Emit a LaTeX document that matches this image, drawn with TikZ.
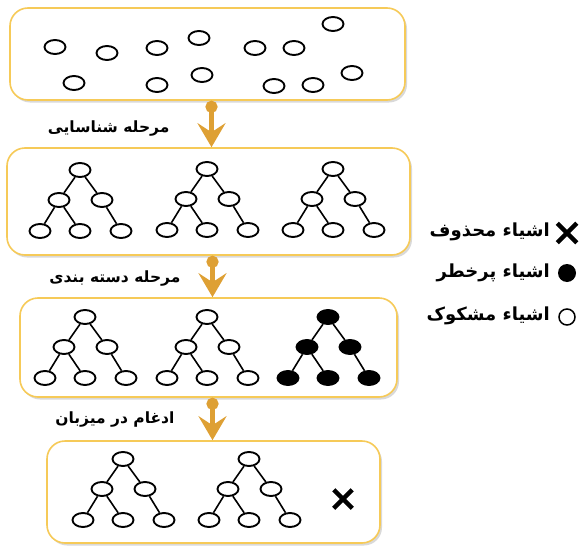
\documentclass[tikz,border=0pt]{standalone}
\usepackage{fontspec}
\newfontfamily\fafont[Script=Arabic]{DejaVu Sans}
\TeXXeTstate=1
\usetikzlibrary{shapes.geometric, shapes.misc, arrows.meta, shadows}

\definecolor{boxgold}{RGB}{246,202,88}
\definecolor{flowgold}{RGB}{222,160,52}

% one tree of six objects: name, x, y, style
\newcommand{\objtree}[4]{%
  \node[#4] (#1r) at (#2,#3) {};
  \node[#4] (#1a) at (#2-21,#3+30) {};
  \node[#4] (#1b) at (#2+22,#3+30) {};
  \node[#4] (#1c) at (#2-40,#3+61) {};
  \node[#4] (#1d) at (#2,#3+61) {};
  \node[#4] (#1e) at (#2+41,#3+61) {};
  \draw[edge] (#1r) -- (#1a) (#1r) -- (#1b)
    (#1a) -- (#1c) (#1a) -- (#1d) (#1b) -- (#1e);
}

\begin{document}
\begin{tikzpicture}[x=1pt, y=-1pt,
    stage/.style={draw=boxgold, line width=1.6pt, rounded corners=18pt, fill=white,
      drop shadow={shadow xshift=2pt, shadow yshift=-2.5pt, opacity=0.3, fill=gray}},
    obj/.style={ellipse, draw, line width=1.9pt, fill=white, inner sep=0pt,
      minimum width=21pt, minimum height=14pt},
    risky/.style={obj, fill=black},
    edge/.style={line width=1.6pt},
    flow/.style={draw=flowgold, line width=4.5pt,
      {Circle[length=12pt]}-{Stealth[length=24pt, width=28pt, inset=9pt]}},
    label/.style={font=\fafont\bfseries\fontsize{15.5}{18}\selectfont, anchor=east},
    key/.style={font=\fafont\bfseries\fontsize{18}{21}\selectfont, anchor=east, inner sep=0pt},
    delmark/.style={cross out, draw, line width=4.5pt, minimum size=14pt, inner sep=0pt}]
  \useasboundingbox (0,0) rectangle (579,549);

  % stages
  \node[stage, minimum width=395pt, minimum height=92pt] (s1) at (207.5,54) {};
  \node[stage, minimum width=403pt, minimum height=107pt] (s2) at (208.5,201.5) {};
  \node[stage, minimum width=377pt, minimum height=99pt] (s3) at (208.5,347.5) {};
  \node[stage, minimum width=333pt, minimum height=102pt] (s4) at (213.5,492) {};

  % suspicious objects
  \foreach \x/\y [count=\i] in {55/47, 107/53, 157/48, 199/38, 255/48, 294/48, 333/24,
      74/83, 157/85, 202/75, 274/86, 313/85, 352/73}
    \node[obj] (o\i) at (\x,\y) {};

  \objtree{p}{80}{170}{obj}
  \objtree{q}{207}{169}{obj}
  \objtree{r}{333}{169}{obj}

  \objtree{k}{85}{317}{obj}
  \objtree{l}{207}{317}{obj}
  \objtree{m}{328}{317}{risky}

  \objtree{u}{123}{459}{obj}
  \objtree{v}{249}{459}{obj}
  \node[delmark] (del) at (343,499) {};

  % flow between stages
  \draw[flow] ([xshift=4pt]s1.south) -- ([xshift=3pt]s2.north);
  \draw[flow] ([xshift=4pt]s2.south) -- ([xshift=4pt]s3.north);
  \draw[flow] ([xshift=4pt]s3.south) -- ([xshift=-1pt]s4.north);
  \node[label] (t1) at (173,129) {\beginR مرحله شناسایی\endR};
  \node[label] (t2) at (184,279) {\beginR مرحله دسته بندی\endR};
  \node[label] (t3) at (178,419) {\beginR ادغام در میزبان\endR};

  % legend
  \node[delmark, minimum size=15pt] (k1) at (567,233) {};
  \node[circle, fill, inner sep=0pt, minimum size=18pt] (k2) at (567,273) {};
  \node[circle, draw, line width=1.5pt, inner sep=0pt, minimum size=16pt] (k3) at (567,317) {};
  \node[key] (l1) at (550,232) {\beginR اشیاء محذوف\endR};
  \node[key] (l2) at (550,273) {\beginR اشیاء پرخطر\endR};
  \node[key] (l3) at (550,316) {\beginR اشیاء مشکوک\endR};
\end{tikzpicture}
\end{document}
